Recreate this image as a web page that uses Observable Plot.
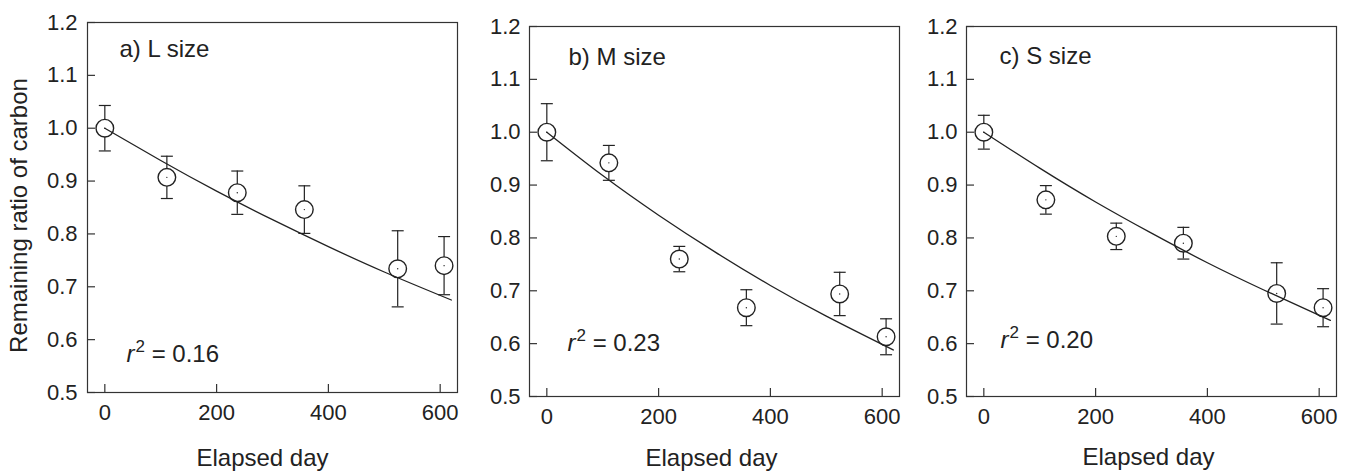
<!DOCTYPE html>
<html>
<head>
<meta charset="utf-8">
<script src="https://cdn.jsdelivr.net/npm/d3@7"></script>
<script src="https://cdn.jsdelivr.net/npm/@observablehq/plot@0.6"></script>
<style>
  html, body { margin: 0; padding: 0; background: #fff; }
  #wrap { position: relative; width: 1353px; height: 471px; overflow: hidden; }
  #wrap svg { position: absolute; top: 0; overflow: visible; }
</style>
</head>
<body>
<div id="wrap"></div>
<script>
// ---- data ----
const days = [0, 111, 237, 357, 524, 607];

const meanL = [1.000, 0.907, 0.878, 0.846, 0.734, 0.740];
const errL  = [0.043, 0.040, 0.041, 0.045, 0.072, 0.055];
const meanM = [1.000, 0.942, 0.760, 0.668, 0.694, 0.613];
const errM  = [0.054, 0.033, 0.024, 0.034, 0.041, 0.034];
const meanS = [1.000, 0.872, 0.803, 0.790, 0.695, 0.668];
const errS  = [0.032, 0.027, 0.025, 0.030, 0.058, 0.036];

const fitDays = [0, 100, 200, 300, 400, 500, 620];
const fitL = [1.000, 0.939, 0.881, 0.827, 0.776, 0.728, 0.675];
const fitM = [1.000, 0.918, 0.843, 0.774, 0.710, 0.652, 0.588];
const fitS = [1.000, 0.932, 0.868, 0.809, 0.753, 0.702, 0.644];

const panelTitles = ["a) L size", "b) M size", "c) S size"];
const r2Values = ["0.16", "0.23", "0.20"];

const xTicks = [0, 200, 400, 600];
const yTicks = [0.5, 0.6, 0.7, 0.8, 0.9, 1.0, 1.1, 1.2];

const xLabel = "Elapsed day";
const yLabel = "Remaining ratio of carbon";

// ---- layout ----
const INK = "#222";
const FONT = "Liberation Sans, Arial, Helvetica, sans-serif";
const PW = 370, PH = 370;

const layouts = [
  {left: 0,   width: 460, ml: 87, mt: 22, titleDx: 32, titleDy: 34, r2Dx: 39, r2Dy: 31, xlDx: -10, xlDy: 73, yPad: 10},
  {left: 460, width: 450, ml: 69, mt: 26, titleDx: 39, titleDy: 38, r2Dx: 38, r2Dy: 46, xlDx: -3,  xlDy: 69, yPad: 9},
  {left: 910, width: 443, ml: 56, mt: 26, titleDx: 33, titleDy: 37, r2Dx: 34, r2Dy: 49, xlDx: -3,  xlDy: 68, yPad: 9}
];

const series = [
  {mean: meanL, err: errL, fit: fitL},
  {mean: meanM, err: errM, fit: fitM},
  {mean: meanS, err: errS, fit: fitS}
];

const capSymbol = {
  draw(ctx, size) {
    const w = Math.sqrt(size / Math.PI);
    ctx.moveTo(-w, 0);
    ctx.lineTo(w, 0);
  }
};

const fmtY = d3.format(".1f");
const wrap = document.getElementById("wrap");

series.forEach((s, i) => {
  const L = layouts[i];
  const pts = days.map((d, k) => ({day: d, v: s.mean[k], lo: s.mean[k] - s.err[k], hi: s.mean[k] + s.err[k]}));
  const fit = fitDays.map((d, k) => ({day: d, v: s.fit[k]}));

  const marks = [
    Plot.frame({stroke: "#333", strokeWidth: 1.2}),
    Plot.tickX(xTicks, {x: d => d, stroke: "#333", strokeWidth: 1.2, insetTop: PH - 8}),
    Plot.tickY(yTicks, {y: d => d, stroke: "#333", strokeWidth: 1.2, insetRight: PW - 8}),
    // tick labels
    Plot.text(xTicks, {x: d => d, text: d => String(d), frameAnchor: "bottom", lineAnchor: "top",
      dy: 12, fontSize: 22, fill: INK}),
    Plot.text(yTicks, {y: d => d, text: d => fmtY(d), frameAnchor: "left", textAnchor: "end", lineAnchor: "middle",
      dx: -L.yPad, fontSize: 22, fill: INK}),
    // error bars
    Plot.ruleX(pts, {x: "day", y1: "lo", y2: "hi", stroke: INK, strokeWidth: 1.2}),
    Plot.dot(pts, {x: "day", y: "hi", symbol: capSymbol, r: 6, stroke: INK, strokeWidth: 1.2}),
    Plot.dot(pts, {x: "day", y: "lo", symbol: capSymbol, r: 6, stroke: INK, strokeWidth: 1.2}),
    Plot.dot(pts, {x: "day", y: "v", r: 8.8, fill: "white", stroke: INK, strokeWidth: 1.4}),
    Plot.dot(pts, {x: "day", y: "v", r: 0.7, fill: INK, stroke: "none"}),
    Plot.line(fit, {x: "day", y: "v", curve: "natural", stroke: INK, strokeWidth: 1.3}),
    Plot.text([panelTitles[i]], {text: d => d, frameAnchor: "top-left", textAnchor: "start", lineAnchor: "bottom",
      dx: L.titleDx, dy: L.titleDy, fontSize: 24, fill: INK}),
    Plot.text(["r² = " + r2Values[i]], {text: d => d, frameAnchor: "bottom-left", textAnchor: "start", lineAnchor: "bottom",
      dx: L.r2Dx, dy: -L.r2Dy, fontSize: 24, fill: INK}),
    Plot.text([xLabel], {text: d => d, frameAnchor: "bottom", textAnchor: "middle", lineAnchor: "bottom",
      dx: L.xlDx, dy: L.xlDy, fontSize: 24, fill: INK})
  ];
  if (i === 0) {
    marks.push(Plot.text([yLabel], {text: d => d, frameAnchor: "left", textAnchor: "middle", lineAnchor: "bottom",
      rotate: -90, dx: 26 - L.ml, dy: 8, fontSize: 24, fill: INK}));
  }

  const svg = Plot.plot({
    width: L.width,
    height: 471,
    marginLeft: L.ml,
    marginRight: L.width - L.ml - PW,
    marginTop: L.mt,
    marginBottom: 471 - L.mt - PH,
    x: {domain: [-31, 631], axis: null},
    y: {domain: [0.5, 1.2], axis: null},
    style: {fontFamily: FONT, fontSize: "22px", color: INK, background: "transparent", overflow: "visible"},
    marks
  });
  svg.style.left = L.left + "px";
  wrap.appendChild(svg);

  // italic r with superscript 2
  d3.select(svg).selectAll("text").filter(function() {
    return this.textContent.startsWith("r²");
  }).each(function() {
    const t = d3.select(this);
    const rest = this.textContent.slice(2);
    t.text(null);
    t.append("tspan").attr("font-style", "italic").text("r");
    t.append("tspan").attr("font-size", "17px").attr("dy", "-10px").attr("dx", "1px").text("2");
    t.append("tspan").attr("dy", "10px").text(rest);
  });
});
</script>
</body>
</html>
